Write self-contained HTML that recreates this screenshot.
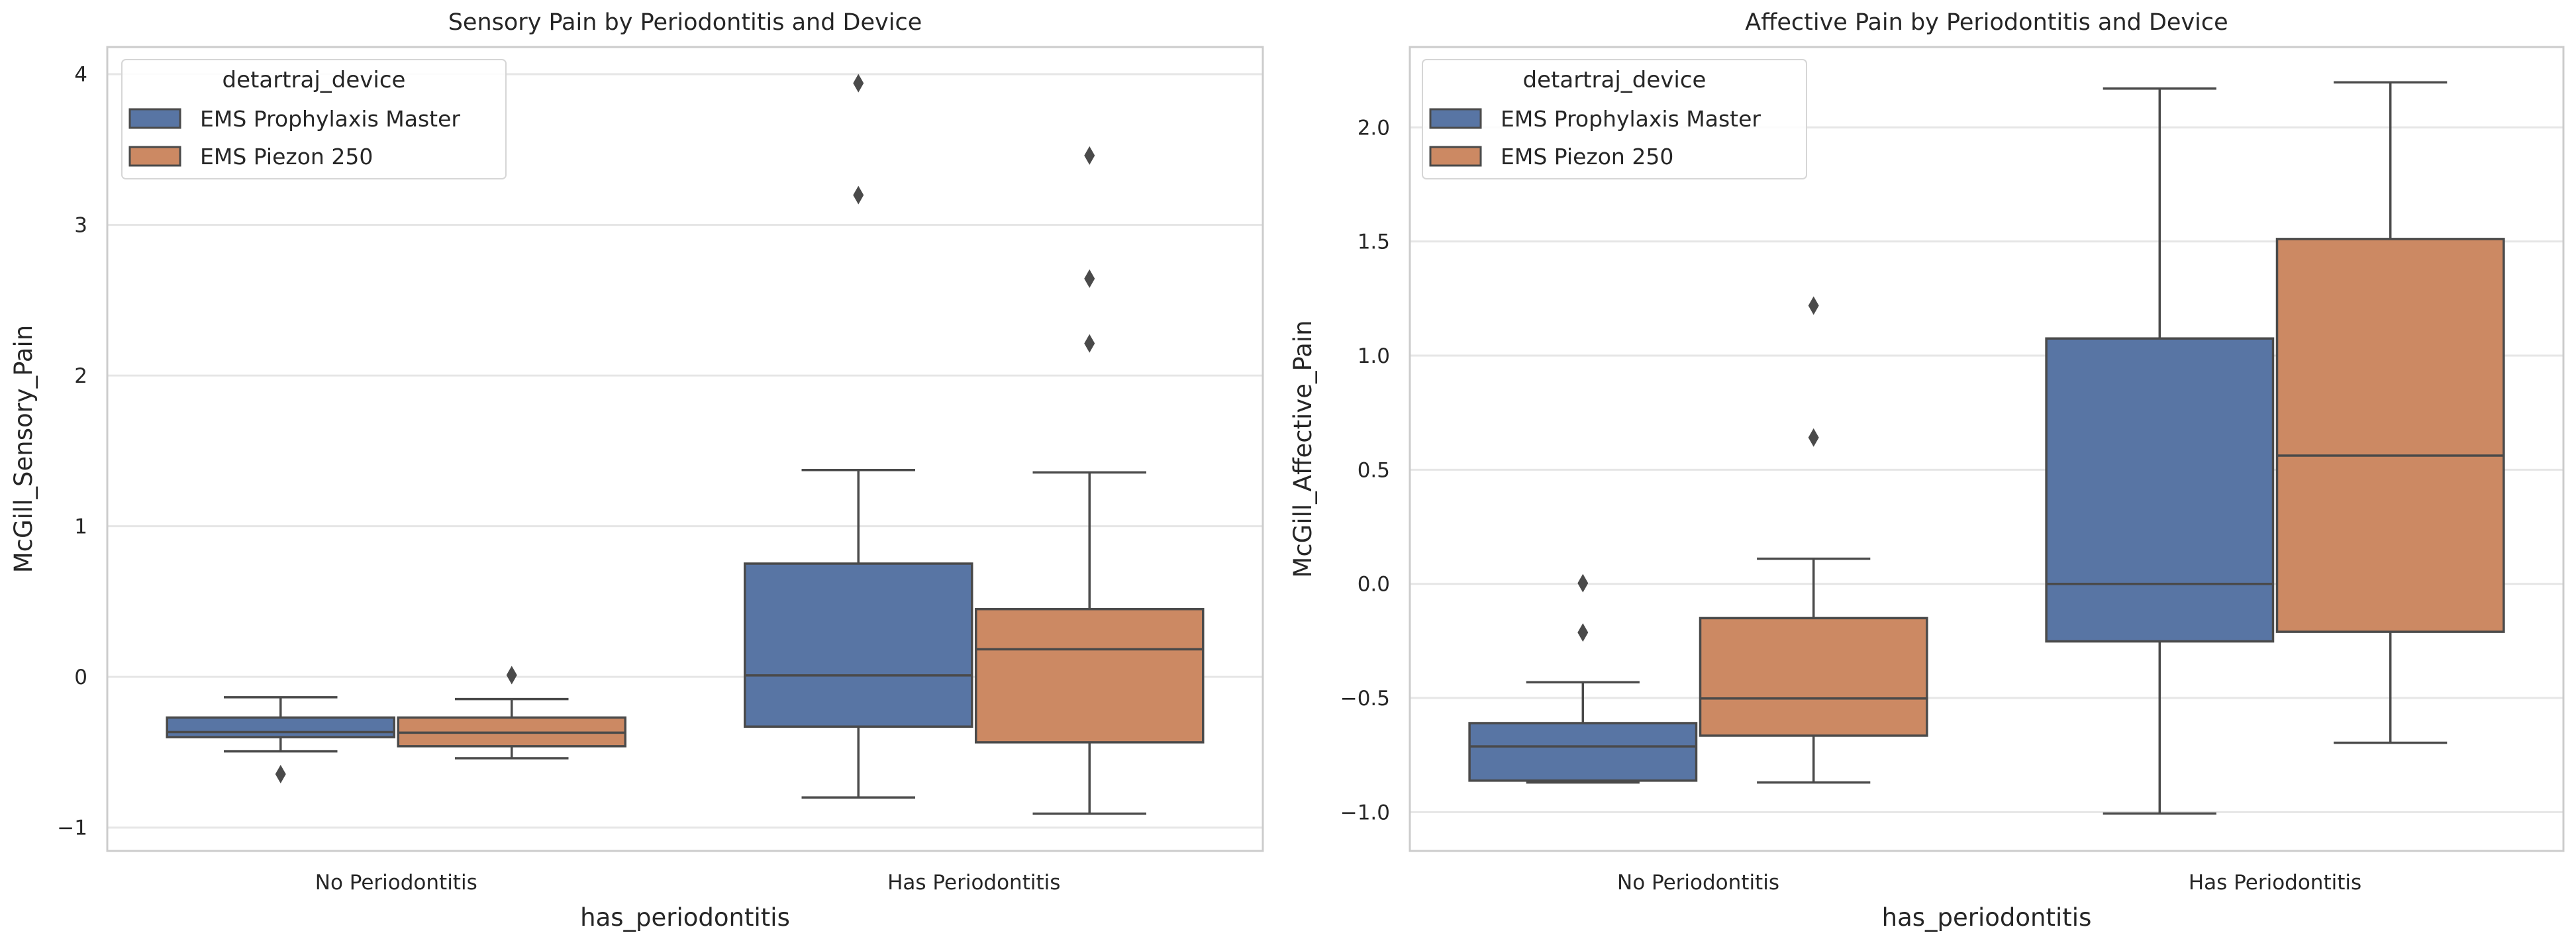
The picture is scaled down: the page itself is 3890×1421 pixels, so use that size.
<!DOCTYPE html>
<html><head><meta charset="utf-8"><style>
html,body{margin:0;padding:0;background:#fff;}
svg{display:block;font-family:"DejaVu Sans","Liberation Sans",sans-serif;}
</style></head><body>
<svg id="chart" width="3890" height="1421" viewBox="0 0 3890 1421" xmlns="http://www.w3.org/2000/svg"></svg>
<script>
// ---- data ----
const categories = ["No Periodontitis", "Has Periodontitis"];
const devices = ["EMS Prophylaxis Master", "EMS Piezon 250"];
// [whislo, q1, med, q3, whishi] per category per device
const sensoryMaster = [[-0.494,-0.40,-0.366,-0.27,-0.135],[-0.80,-0.33,0.01,0.752,1.373]];
const sensoryPiezon = [[-0.54,-0.46,-0.37,-0.27,-0.147],[-0.908,-0.434,0.183,0.45,1.357]];
const sensoryMasterOut = [[-0.645],[3.94,3.197]];
const sensoryPiezonOut = [[0.012],[3.46,2.643,2.213]];
const sensoryTicks = [-1,0,1,2,3,4];
const affectiveMaster = [[-0.87,-0.862,-0.712,-0.61,-0.431],[-1.006,-0.252,0,1.075,2.17]];
const affectivePiezon = [[-0.87,-0.665,-0.502,-0.15,0.11],[-0.696,-0.21,0.562,1.511,2.197]];
const affectiveMasterOut = [[0.003,-0.213],[]];
const affectivePiezonOut = [[1.219,0.641],[]];
const affectiveTicks = [-1.0,-0.5,0.0,0.5,1.0,1.5,2.0];

const NS="http://www.w3.org/2000/svg";
const svg=document.getElementById('chart');
const colors=["#5875a4","#cc8963"];
function mk(tag,attrs,parent){const e=document.createElementNS(NS,tag);for(const k in attrs)e.setAttribute(k,attrs[k]);(parent||svg).appendChild(e);return e;}

function panel(p){
  const g=mk('g',{});
  
  
  const L=p.left,R=p.right,T=71,B=1285;
  const y=v=>T+(p.ymax-v)/(p.ymax-p.ymin)*(B-T);
  const band=(R-L)/2;
  const xc=i=>L+band*(i+0.5);
  p.ticks.forEach(t=>{
    const ln=mk('line',{x1:L,x2:R,y1:y(t),y2:y(t),stroke:'#e6e6e6','stroke-width':3},g);
    
    
    const tx=mk('text',{x:L-30,y:y(t)+11,'text-anchor':'end','font-size':31,fill:'#262626'},g);
    tx.textContent=p.dec?(t<0?'\u2212'+Math.abs(t).toFixed(1):t.toFixed(1)):(t<0?'\u2212'+Math.abs(t):String(t));
    
    
  });
  const fr=mk('rect',{x:L,y:T,width:R-L,height:B-T,fill:'none',stroke:'#cccccc','stroke-width':3},g);
  
  
  const boxW=band*0.8/2;
  const sets=[p.a,p.b],outs=[p.ao,p.bo];
  categories.forEach((c,i)=>{
    for(let d=0;d<2;d++){
      const s=sets[d][i];
      const cx=xc(i)-band*0.4+boxW*(d+0.5);
      const w=boxW-6;
      const lc='#4a4a4a';
      const bg=mk('g',{},g);
      
      
      mk('line',{x1:cx,x2:cx,y1:y(s[0]),y2:y(s[1]),stroke:lc,'stroke-width':3.5},bg);
      mk('line',{x1:cx,x2:cx,y1:y(s[3]),y2:y(s[4]),stroke:lc,'stroke-width':3.5},bg);
      mk('line',{x1:cx-w/4,x2:cx+w/4,y1:y(s[0]),y2:y(s[0]),stroke:lc,'stroke-width':3.5},bg);
      mk('line',{x1:cx-w/4,x2:cx+w/4,y1:y(s[4]),y2:y(s[4]),stroke:lc,'stroke-width':3.5},bg);
      mk('rect',{x:cx-w/2,y:y(s[3]),width:w,height:y(s[1])-y(s[3]),fill:colors[d],stroke:lc,'stroke-width':3.5},bg);
      mk('line',{x1:cx-w/2,x2:cx+w/2,y1:y(s[2]),y2:y(s[2]),stroke:lc,'stroke-width':3.5},bg);
      outs[d][i].forEach(o=>{
        const yy=y(o);
        const dm=mk('polygon',{points:`${cx},${yy-14} ${cx+8},${yy} ${cx},${yy+14} ${cx-8},${yy}`,fill:lc},bg);
        
        
      });
    }
    const xl=mk('text',{x:xc(i),y:1343,'text-anchor':'middle','font-size':31,fill:'#262626'},g);
    xl.textContent=c;
    
    
  });
  const tt=mk('text',{x:(L+R)/2,y:45,'text-anchor':'middle','font-size':35,fill:'#262626'},g);
  tt.textContent=p.title;
  
  
  const xa=mk('text',{x:(L+R)/2,y:1398,'text-anchor':'middle','font-size':37,fill:'#262626'},g);
  xa.textContent='has_periodontitis';
  
  
  const ya=mk('text',{x:0,y:0,'text-anchor':'middle','font-size':37,fill:'#262626',transform:`translate(${p.ylx},${(T+B)/2}) rotate(-90)`},g);
  ya.textContent=p.ylabel;
  
  
  const lg=mk('g',{},g);
  
  
  const lx=p.legX;
  mk('rect',{x:lx,y:90,width:580,height:180,rx:6,fill:'#fff','fill-opacity':0.85,stroke:'#d6d6d6','stroke-width':2},lg);
  const lt=mk('text',{x:lx+290,y:132,'text-anchor':'middle','font-size':34,fill:'#262626'},lg);
  lt.textContent='detartraj_device';
  devices.forEach((d,k)=>{
    const cy=179+k*57;
    const sw=mk('rect',{x:lx+12,y:cy-14,width:76,height:28,fill:colors[k],stroke:'#4a4a4a','stroke-width':3},lg);
    
    
    const te=mk('text',{x:lx+118,y:cy+12,'font-size':33,fill:'#262626'},lg);
    te.textContent=d;
    
    
  });
}
panel({name:'sensory-panel',left:162,right:1907,ymin:-1.155,ymax:4.18,ticks:sensoryTicks,dec:false,
  a:sensoryMaster,b:sensoryPiezon,ao:sensoryMasterOut,bo:sensoryPiezonOut,
  title:'Sensory Pain by Periodontitis and Device',ylabel:'McGill_Sensory_Pain',ylx:48,legX:184});
panel({name:'affective-panel',left:2129,right:3871,ymin:-1.17,ymax:2.352,ticks:affectiveTicks,dec:true,
  a:affectiveMaster,b:affectivePiezon,ao:affectiveMasterOut,bo:affectivePiezonOut,
  title:'Affective Pain by Periodontitis and Device',ylabel:'McGill_Affective_Pain',ylx:1980,legX:2148});
</script>
</body></html>
